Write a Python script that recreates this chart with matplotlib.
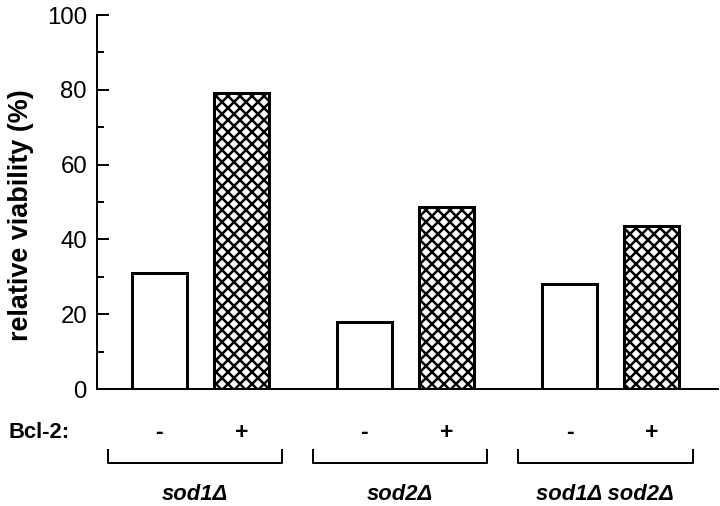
import matplotlib
matplotlib.use("Agg")
import matplotlib.pyplot as plt
import matplotlib.transforms as mtransforms

plt.rcParams['font.family'] = ['Liberation Sans', 'DejaVu Sans']
plt.rcParams['hatch.linewidth'] = 2.5

# data
groups = ['sod1\u0394', 'sod2\u0394', 'sod1\u0394 sod2\u0394']
bcl2_minus = [30.9, 17.8, 28.2]
bcl2_plus = [79.1, 48.7, 43.6]
signs = ['-', '+']
yticks = [0, 20, 40, 60, 80, 100]

group_pos = [0, 2.5, 5]

fig = plt.figure(figsize=(10, 506 / 72), dpi=72)
ax = fig.add_axes([97 / 720, 1 - 389 / 506, 621 / 720, 374 / 506])

w = 0.67
minus_x = [g for g in group_pos]
plus_x = [g + 1 for g in group_pos]
ax.bar(minus_x, bcl2_minus, width=w, color='white', edgecolor='black', linewidth=3)
ax.bar(plus_x, bcl2_plus, width=w, color='white', edgecolor='black', linewidth=3, hatch='xx')

ax.set_ylim(0, 100)
ax.set_xlim(-0.76, 6.81)
ax.set_yticks(yticks)
ax.set_yticks(range(10, 100, 20), minor=True)
ax.tick_params(axis='y', which='major', direction='in', length=12, width=2, labelsize=24, pad=10)
ax.tick_params(axis='y', which='minor', direction='in', length=7, width=2)
ax.set_xticks([])
ax.spines['top'].set_visible(False)
ax.spines['right'].set_visible(False)
ax.spines['left'].set_linewidth(2)
ax.spines['bottom'].set_linewidth(2)

fig.text(21 / 720, 1 - 215 / 506, 'relative viability (%)', rotation=90, ha='center', va='center',
         fontsize=27, fontweight='bold')

trans = mtransforms.blended_transform_factory(ax.transData, ax.transAxes)

# Bcl-2 row
fig.text(8 / 720, 1 - 432 / 506, 'Bcl-2:', ha='left', va='center', fontsize=22, fontweight='bold')
for g in group_pos:
    for k, s in enumerate(signs):
        ax.text(g + k, -0.115, s, transform=trans, ha='center', va='center',
                fontsize=23, fontweight='bold', clip_on=False)

# brackets and strain labels
for g, name in zip(group_pos, groups):
    x0, x1 = g - 0.63, g + 1.5
    ax.plot([x0, x0, x1, x1], [-0.163, -0.198, -0.198, -0.163], transform=trans,
            color='black', linewidth=2, clip_on=False)
    ax.text((x0 + x1) / 2, -0.296, name, transform=trans, ha='center', va='baseline',
            fontsize=22, fontweight='bold', style='italic', clip_on=False)

fig.savefig('out.png', dpi=72, facecolor='white')
